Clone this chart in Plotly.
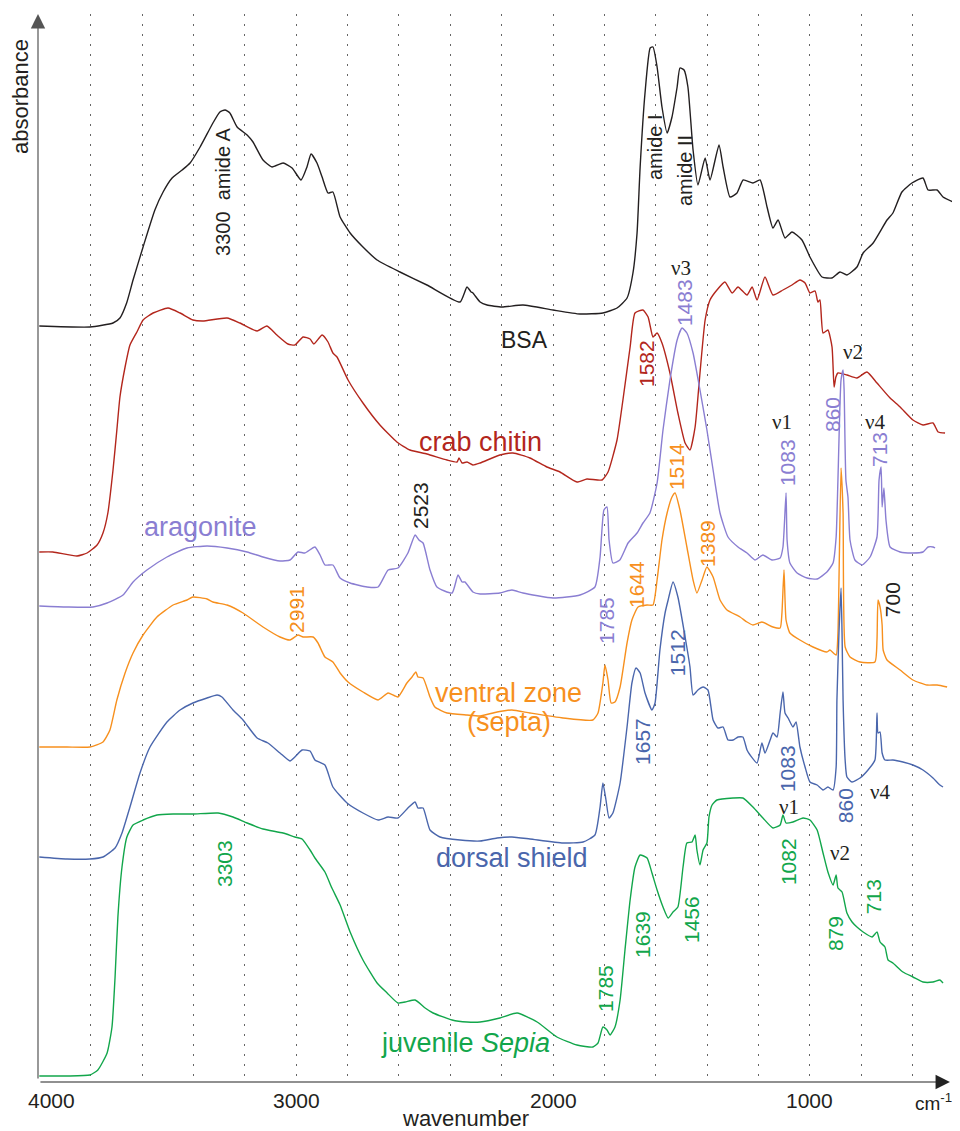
import plotly.graph_objects as go

# ---------------- data (wavenumber cm-1, stacked absorbance in arbitrary units) ----------------
bsa_wn = [4000,3803,3713,3686,3660,3635,3596,3550,3518,3483,3444,3413,3374,3324,3297,3277,3258,3230,3191,3168,
          3129,3094,3051,3016,2981,2958,2942,2919,2899,2876,2857,2829,2790,2740,2685,2596,2491,2362,2335,2319,
          2312,2284,2257,2199,2117,2000,1895,1806,1751,1712,1689,1673,1661,1642,1622,1611,1595,1576,1556,1537,
          1517,1506,1490,1475,1455,1436,1408,1389,1354,1338,1311,1284,1260,1222,1194,1167,1144,1124,1097,1070,
          1031,1000,953,914,883,856,817,793,754,700,677,642,603,560,540,505,482,443]
bsa_abs = [756,755,759,764,779,802,835,872,890,904,912,919,935,959,970,972,969,955,947,940,
           922,915,919,914,902,915,928,919,905,889,890,865,849,835,822,810,797,780,795,790,
           789,780,777,775,777,772,768,769,774,784,809,849,915,989,1034,1035,1015,975,949,965,
           995,1014,1012,995,932,897,924,902,937,915,885,889,902,899,902,875,854,862,844,850,
           842,825,805,804,810,807,815,829,839,862,869,890,899,904,892,892,885,880]

crab_wn = [4000,3947,3853,3814,3775,3752,3733,3713,3698,3686,3666,3647,3620,3596,3557,3499,3452,3402,3363,3269,
           3219,3152,3114,3075,3032,3005,2973,2946,2931,2899,2876,2857,2841,2798,2740,2674,2608,2557,2491,2413,
           2374,2366,2354,2335,2312,2284,2207,2156,2090,2024,1973,1907,1868,1809,1786,1751,1728,1700,1681,1650,
           1630,1611,1595,1576,1545,1514,1486,1467,1447,1428,1408,1389,1362,1331,1303,1280,1245,1225,1206,1175,
           1144,1105,1070,1039,1019,1000,980,969,961,949,930,914,906,899,891,856,817,778,739,688,
           649,599,560,521,501,474]
crab_abs = [530,530,526,529,537,549,569,612,652,685,715,737,750,762,769,774,769,762,761,764,
            759,751,756,747,738,737,745,743,738,747,740,729,725,702,679,657,640,632,628,622,
            620,624,619,620,617,619,627,629,624,615,610,600,603,602,610,642,682,735,769,772,
            765,745,749,739,709,669,639,632,655,709,762,782,792,800,789,795,787,795,782,805,
            787,792,797,802,799,789,791,780,782,749,752,735,695,705,709,707,704,710,699,684,
            675,662,657,659,650,649]

arag_wn = [4000,3892,3791,3736,3674,3635,3581,3503,3425,3347,3269,3191,3129,3063,3024,2993,2966,2927,2907,2888,
           2857,2829,2790,2724,2681,2642,2604,2565,2537,2522,2506,2479,2452,2393,2370,2354,2343,2312,2284,2207,
           2160,2117,2000,1895,1837,1817,1802,1790,1782,1767,1740,1708,1673,1650,1623,1595,1572,1545,1517,1498,
           1479,1455,1428,1401,1377,1350,1319,1280,1245,1214,1183,1148,1116,1105,1093,1089,1078,1050,1011,972,
           934,910,898,891,879,871,867,860,852,844,825,797,766,739,731,723,719,712,704,688,
           649,599,560,540,521,513]
arag_abs = [476,475,475,479,487,500,512,525,534,536,534,530,525,521,522,530,529,535,527,517,
            517,504,499,495,495,512,514,529,547,542,539,512,495,489,507,500,500,490,488,489,
            492,489,484,487,495,525,572,575,542,519,522,539,549,559,569,599,652,702,742,754,
            749,729,692,652,612,569,545,535,529,522,527,522,524,535,589,542,519,509,504,503,
            510,519,545,602,702,712,692,602,585,542,522,517,525,545,602,615,575,594,562,535,
            530,529,530,535,535,534]

vent_wn = [4000,3892,3803,3752,3725,3698,3666,3635,3596,3542,3479,3425,3402,3347,3324,3269,3207,3129,3063,3024,
           2993,2973,2934,2915,2888,2857,2829,2798,2740,2681,2642,2604,2569,2549,2534,2526,2506,2479,2460,2413,
           2335,2284,2218,2160,2090,1961,1845,1825,1806,1798,1786,1774,1759,1739,1712,1693,1669,1634,1611,1595,
           1576,1556,1537,1525,1506,1479,1455,1440,1420,1401,1377,1350,1323,1272,1245,1222,1187,1144,1116,1109,
           1101,1093,1078,1039,988,934,922,898,891,879,871,863,844,805,747,739,735,727,719,715,
           700,649,599,544,505,466]
vent_abs = [335,335,335,340,352,382,409,429,447,465,477,482,485,483,480,477,469,455,445,442,
            447,445,445,439,425,420,409,400,390,382,389,385,399,405,410,405,404,385,375,369,
            367,366,370,372,369,364,362,369,399,417,402,379,380,395,439,462,475,477,477,502,
            542,569,585,589,572,535,502,489,502,515,505,482,472,465,460,457,460,455,454,469,
            512,462,449,442,435,430,432,427,449,614,569,435,425,420,420,442,482,475,457,432,
            422,412,402,397,397,395]

dors_wn = [4000,3892,3803,3752,3705,3678,3647,3608,3569,3503,3452,3402,3347,3308,3289,3246,3207,3152,3110,3063,
           3024,3005,2977,2946,2927,2888,2857,2802,2740,2681,2642,2604,2565,2537,2526,2506,2479,2440,2362,2284,
           2218,2160,2090,1961,1883,1837,1817,1806,1794,1782,1767,1739,1712,1693,1677,1661,1642,1615,1603,1584,
           1564,1552,1533,1514,1486,1467,1455,1436,1416,1397,1377,1358,1338,1319,1299,1280,1261,1245,1233,1206,
           1187,1175,1155,1144,1128,1116,1105,1097,1085,1066,1054,1039,1019,1000,972,949,930,910,898,895,
           887,879,875,871,863,856,836,805,774,747,739,735,727,719,708,677,638,599,560,521,494,482]
dors_abs = [225,223,223,225,234,249,275,309,335,360,372,379,384,387,385,372,362,344,339,329,
            321,325,332,331,322,317,295,279,269,262,265,264,274,280,274,274,252,245,242,241,
            244,245,243,239,240,247,275,299,282,264,269,299,355,399,414,409,389,372,379,432,
            469,482,500,485,445,415,387,392,395,392,362,354,355,342,342,345,345,332,327,319,
            339,329,342,349,345,369,390,369,364,355,360,335,315,300,297,292,295,292,315,382,
            449,494,449,382,322,305,300,304,312,322,369,349,350,329,322,322,320,317,312,304,297,295]

sepia_wn = [4000,3892,3803,3772,3736,3717,3705,3694,3678,3659,3635,3596,3542,3479,3402,3304,3246,3191,3129,3051,
            3005,2977,2946,2927,2888,2861,2829,2790,2740,2685,2646,2604,2576,2537,2498,2467,2393,2335,2284,2207,
            2140,2062,1985,1907,1845,1825,1806,1790,1778,1759,1739,1720,1700,1681,1661,1634,1615,1595,1572,1552,
            1533,1514,1494,1479,1459,1447,1440,1428,1416,1401,1393,1381,1362,1299,1261,1222,1183,1144,1116,1105,
            1093,1066,1027,1000,972,949,930,910,898,891,875,856,836,817,793,758,739,727,708,696,
            677,638,599,560,521,494,482]
sepia_abs = [6,6,7,12,29,55,105,165,215,245,257,262,267,268,268,269,265,259,253,249,
             245,243,232,224,210,194,177,150,122,99,89,79,80,82,74,69,62,60,60,64,
             69,60,45,37,35,39,55,52,47,55,82,132,182,215,227,224,209,192,175,164,
             170,175,215,239,240,247,232,217,232,239,265,277,282,284,284,275,264,254,257,267,
             259,260,264,262,252,229,210,197,207,194,190,169,160,155,150,145,150,140,135,122,
             119,110,105,100,100,102,99]

series_names = ["BSA", "crab chitin", "aragonite", "ventral zone (septa)", "dorsal shield", "juvenile Sepia"]
series_wn = [bsa_wn, crab_wn, arag_wn, vent_wn, dors_wn, sepia_wn]
series_abs = [bsa_abs, crab_abs, arag_abs, vent_abs, dors_abs, sepia_abs]

grid_wn = [3800, 3600, 3400, 3200, 3000, 2800, 2600, 2400, 2200, 2000, 1800, 1600, 1400, 1200, 1000, 800, 600]
tick_labels = ["4000", "3000", "2000", "1000"]

# ---------------- styles ----------------
BLACK = "#231f20"
RED = "#b3261c"
PURPLE = "#8a7ed2"
ORANGE = "#f7901e"
BLUE = "#4a66ac"
GREEN = "#12a64b"
series_colors = [BLACK, RED, PURPLE, ORANGE, BLUE, GREEN]

SANS = "Liberation Sans, Arial, sans-serif"
SERIF = "Liberation Serif, Times New Roman, serif"

X_RANGE = [4005, 447]
PLOT_W = 914.0   # plot-area width in px
PLOT_H = 1068.0  # plot-area height in px
ML, MT = 30, 6
FIG_W, FIG_H = 952, 1123

fig = go.Figure()
for name, wn, ab, col in zip(series_names, series_wn, series_abs, series_colors):
    fig.add_trace(go.Scatter(x=wn, y=ab, mode="lines", name=name,
                             line=dict(color=col, width=1.4, shape="spline", smoothing=0.5),
                             showlegend=False, hoverinfo="skip"))

# annotation specs: (text, x, y, color, angle, size, family)
labels = [
    ("3300  amide A", 3285, 891, BLACK, -90, 20, SANS),
    ("amide I", 1603, 935, BLACK, -90, 20, SANS),
    ("amide II", 1486, 911, BLACK, -90, 20, SANS),
    ("BSA", 2113, 742, BLACK, 0, 23, SANS),
    ("ν3", 1502, 814, BLACK, 0, 21, SERIF),
    ("1483", 1490, 779, PURPLE, -90, 21, SANS),
    ("1582", 1638, 718, RED, -90, 21, SANS),
    ("crab chitin", 2284, 640, RED, 0, 27, SANS),
    ("ν2", 832, 730, BLACK, 0, 21, SERIF),
    ("ν1", 1109, 660, BLACK, 0, 21, SERIF),
    ("1083", 1089, 619, PURPLE, -90, 21, SANS),
    ("860", 914, 667, PURPLE, -90, 21, SANS),
    ("ν4", 747, 660, BLACK, 0, 21, SERIF),
    ("713", 731, 632, PURPLE, -90, 21, SANS),
    ("aragonite", 3374, 555, PURPLE, 0, 27, SANS),
    ("2523", 2518, 577, BLACK, -90, 21, SANS),
    ("1514", 1521, 615, ORANGE, -90, 21, SANS),
    ("1389", 1401, 539, ORANGE, -90, 21, SANS),
    ("1644", 1677, 497, ORANGE, -90, 21, SANS),
    ("1785", 1794, 462, PURPLE, -90, 21, SANS),
    ("700", 680, 482, BLACK, -90, 21, SANS),
    ("2991", 3001, 473, ORANGE, -90, 21, SANS),
    ("ventral zone", 2175, 389, ORANGE, 0, 27, SANS),
    ("(septa)", 2171, 360, ORANGE, 0, 27, SANS),
    ("1657", 1654, 341, BLUE, -90, 21, SANS),
    ("1512", 1517, 429, BLUE, -90, 21, SANS),
    ("1083", 1089, 313, BLUE, -90, 21, SANS),
    ("860", 863, 276, BLUE, -90, 21, SANS),
    ("ν4", 727, 290, BLACK, 0, 21, SERIF),
    ("ν1", 1081, 275, BLACK, 0, 21, SERIF),
    ("dorsal shield", 2160, 224, BLUE, 0, 27, SANS),
    ("3303", 3281, 219, GREEN, -90, 21, SANS),
    ("1082", 1085, 220, GREEN, -90, 21, SANS),
    ("ν2", 883, 229, BLACK, 0, 21, SERIF),
    ("879", 902, 148, GREEN, -90, 21, SANS),
    ("713", 754, 185, GREEN, -90, 21, SANS),
    ("1456", 1463, 162, GREEN, -90, 21, SANS),
    ("1639", 1654, 148, GREEN, -90, 21, SANS),
    ("1785", 1798, 94, GREEN, -90, 21, SANS),
    ("juvenile <i>Sepia</i>", 2339, 39, GREEN, 0, 27, SANS),
]

annotations = []
for text, x, y, col, ang, size, fam in labels:
    annotations.append(dict(text=text, x=x, y=y, xref="x", yref="y", showarrow=False,
                            textangle=ang, font=dict(color=col, size=size, family=fam),
                            xanchor="center", yanchor="middle"))

# texts outside the plot area -> paper coordinates (figure-pixel -> paper fraction)
def paper_x(fig_px):
    return (fig_px - ML) / PLOT_W

def paper_y(fig_px):
    return (MT + PLOT_H - fig_px) / PLOT_H

tick_x = [3951, 2997, 2000, 1000]
for t, xp in zip(tick_labels, tick_x):
    annotations.append(dict(text=t, x=xp, y=paper_y(1092), xref="x", yref="paper", showarrow=False,
                            xanchor="center", yanchor="middle", font=dict(color=BLACK, size=21, family=SANS)))
annotations.append(dict(text="wavenumber", x=2339, y=paper_y(1110), xref="x", yref="paper",
                        showarrow=False, xanchor="center", yanchor="middle",
                        font=dict(color=BLACK, size=22, family=SANS)))
annotations.append(dict(text="cm<sup>-1</sup>", x=598, y=paper_y(1094), xref="x", yref="paper",
                        showarrow=False, xanchor="left", yanchor="middle",
                        font=dict(color=BLACK, size=19, family=SANS)))
annotations.append(dict(text="absorbance", x=paper_x(12), y=985, xref="paper", yref="y",
                        showarrow=False, textangle=-90, xanchor="center", yanchor="middle",
                        font=dict(color=BLACK, size=22, family=SANS)))
# axis arrows
annotations.append(dict(x=4005, y=1068, xref="x", yref="y", ax=0, ay=1066, axref="pixel", ayref="pixel",
                        showarrow=True, arrowhead=2, arrowsize=2.4, arrowwidth=1.2, arrowcolor="#555555", text=""))
annotations.append(dict(x=455, y=0, xref="x", yref="y", ax=-911, ay=0, axref="pixel", ayref="pixel",
                        showarrow=True, arrowhead=2, arrowsize=2.4, arrowwidth=1.2, arrowcolor="#222222", text=""))

fig.update_layout(
    width=FIG_W, height=FIG_H,
    margin=dict(l=ML, r=FIG_W - ML - int(PLOT_W), t=MT, b=FIG_H - MT - int(PLOT_H)),
    plot_bgcolor="white", paper_bgcolor="white",
    xaxis=dict(range=X_RANGE, tickvals=grid_wn, showticklabels=False, ticks="",
               showgrid=True, gridcolor="#666666", gridwidth=1, griddash="1.5px,8.5px",
               zeroline=False, showline=False, fixedrange=True),
    yaxis=dict(range=[0, 1068], visible=False, showgrid=False, zeroline=False, fixedrange=True),
    annotations=annotations,
    showlegend=False,
)

fig.write_html("out.html")
